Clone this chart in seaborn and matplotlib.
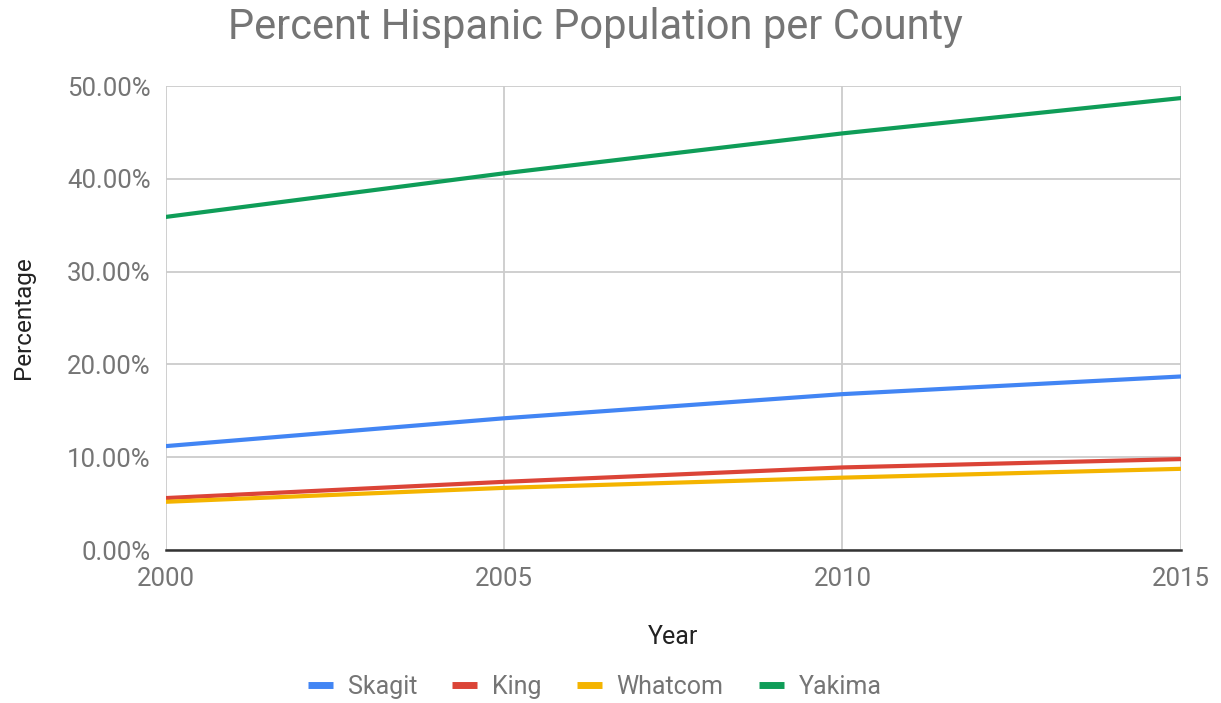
import matplotlib
matplotlib.use("Agg")
import matplotlib.pyplot as plt
import seaborn as sns
import pandas as pd
from matplotlib.lines import Line2D
from matplotlib.ticker import FuncFormatter

years = [2000, 2005, 2010, 2015]
skagit = [11.2, 14.2, 16.8, 18.7]
king = [5.6, 7.35, 8.9, 9.8]
whatcom = [5.2, 6.7, 7.8, 8.75]
yakima = [35.9, 40.6, 44.9, 48.7]
counties = ["Skagit", "King", "Whatcom", "Yakima"]
colors = ["#4285F4", "#DB4437", "#F4B400", "#0F9D58"]

rows = []
for name, vals in zip(counties, [skagit, king, whatcom, yakima]):
    for y, v in zip(years, vals):
        rows.append({"Year": y, "Percentage": v, "County": name})
df = pd.DataFrame(rows)

sns.set_theme(style="white")
plt.rcParams['font.family'] = ['Roboto', 'DejaVu Sans']

fig = plt.figure(figsize=(12.21, 7.03), dpi=100)
ax = fig.add_axes([0.136, 0.2176, 0.831, 0.66])

sns.lineplot(data=df, x="Year", y="Percentage", hue="County", palette=colors,
             hue_order=counties, linewidth=3.0, ax=ax, legend=False)

ax.set_xlim(2000, 2015)
ax.set_ylim(0, 50)
ax.set_xticks(years)
ax.set_yticks([0, 10, 20, 30, 40, 50])
ax.yaxis.set_major_formatter(FuncFormatter(lambda v, p: f"{v:.2f}%"))
ax.grid(True, color="#cccccc", linewidth=1.3)
ax.set_axisbelow(True)
for s in ["top", "right", "left"]:
    ax.spines[s].set_visible(False)
ax.spines["bottom"].set_color("#333333")
ax.spines["bottom"].set_linewidth(1.8)
ax.tick_params(axis="both", length=0, labelsize=18.5, colors="#757575", pad=11)
ax.tick_params(axis="x", pad=12)

ax.set_xlabel("Year", fontsize=18, color="#222222", labelpad=25)
ax.set_ylabel("Percentage", fontsize=17.5, color="#222222", labelpad=23)

fig.text(228 / 1221, 1 - 27 / 703, "Percent Hispanic Population per County",
         fontsize=30, color="#757575", ha="left", va="center")

handles = [Line2D([0], [0], color=c, linewidth=5, solid_capstyle="butt") for c in colors]
leg = fig.legend(handles, counties, loc="center", bbox_to_anchor=(0.487, 1 - 687 / 703),
                 ncol=4, frameon=False, fontsize=18, handlelength=1.0,
                 columnspacing=1.4, handletextpad=0.6)
for t in leg.get_texts():
    t.set_color("#757575")

fig.savefig("out.png", dpi=100, facecolor="white")
